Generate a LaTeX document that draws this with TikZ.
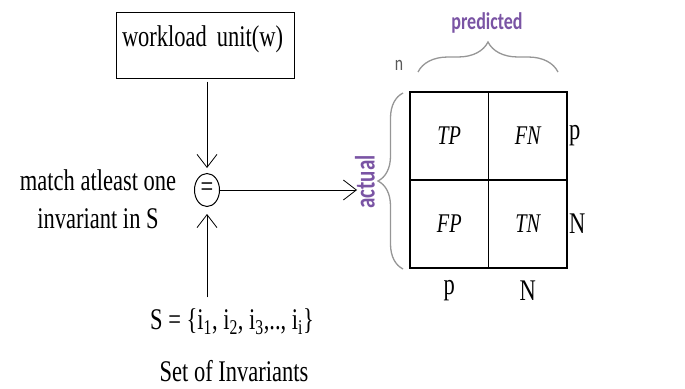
\documentclass[tikz,border=0pt]{standalone}
\usepackage{fontspec}
\setmainfont{Liberation Serif}[FakeStretch=0.75,ItalicFont={Liberation Serif Italic}]
\newfontfamily\calib{Carlito}[FakeStretch=0.75]
\usetikzlibrary{positioning,arrows.meta,shapes.geometric,decorations.pathreplacing}
\definecolor{purp}{RGB}{122,84,164}
\definecolor{brc}{RGB}{150,150,150}

\begin{document}
\begin{tikzpicture}[x=1pt,y=-1pt,
  big/.style={font=\fontsize{30}{38}\selectfont},
  cell/.style={draw,line width=1.2pt,outer sep=0pt,minimum width=78.5pt,minimum height=88pt,
    font=\fontsize{27}{29}\selectfont\itshape},
  arr/.style={-{Straight Barb[length=13pt,width=20pt]},line width=0.8pt},
  brace/.style={decorate,decoration={brace,amplitude=#1},brc,line width=1.3pt}]
  \useasboundingbox (0,0) rectangle (685,388);
  \node[draw,line width=1pt,minimum width=178pt,minimum height=66pt,text width=166pt,
    align=left,text depth=17pt,big] (W) at (205,45) {workload unit(w)};
  \node[draw,ellipse,line width=1pt,minimum width=25pt,minimum height=33pt,inner sep=0pt,
    font=\fontsize{30}{30}\selectfont] (E) at (207,190) {=};
  \node[big,align=center] (M) at (98,199) {match atleast one\\invariant in S};
  \node[big] (S) at (232,322) {S = \{i\textsubscript{1}, i\textsubscript{2}, i\textsubscript{3},.., i\textsubscript{i}\}};
  \node[big] (I) at (234,371) {Set of Invariants};
  \node[cell] (TP) at (449.25,136) {TP};
  \node[cell,right=0pt of TP] (FN) {FN};
  \node[cell,below=0pt of TP] (FP) {FP};
  \node[cell,right=0pt of FP] (TN) {TN};
  \node[big,anchor=west,inner sep=2pt] (rp) at (FN.east) {p};
  \node[big,anchor=west,inner sep=2pt] (rn) at (TN.east) {N};
  \node[big,below=9pt of FP] (bp) {p};
  \node[big,below=9pt of TN] (bn) {N};
  \node[purp,rotate=90,font=\calib\bfseries\fontsize{28}{30}\selectfont] (act) at (365,182) {actual};
  \node[purp,font=\calib\bfseries\fontsize{24}{26}\selectfont] (pre) at (487,23) {predicted};
  \node[black!65,font=\calib\fontsize{21}{23}\selectfont] (n) at (399,65) {n};
  \coordinate (T) at (357,190);
  \draw[arr,shorten <=3pt,shorten >=5pt] (W.south -| E) -- (E);
  \draw[arr,shorten <=8pt,shorten >=7pt] (S.north -| E) -- (E);
  \draw[arr] (E) -- (T);
  \draw[brace=30pt] (418,72) -- (558,72);
  \draw[brace=25pt] (403,269) -- (403,93);
\end{tikzpicture}
\end{document}
